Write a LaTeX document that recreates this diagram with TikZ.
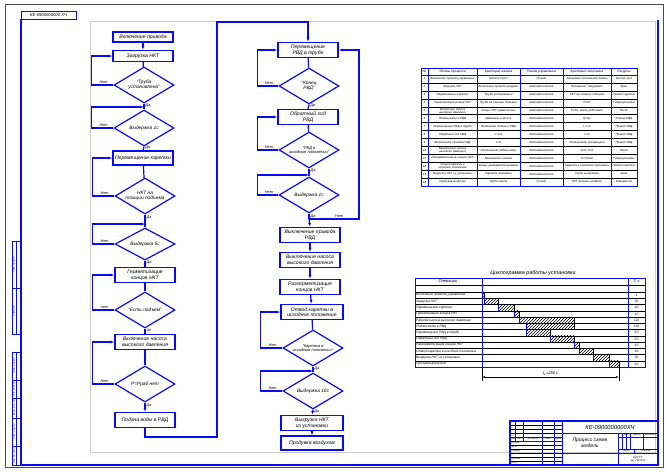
\documentclass[tikz,border=0pt]{standalone}
\usepackage{fontspec}
\setmainfont{Liberation Sans}
\usetikzlibrary{arrows.meta,shapes.geometric,patterns,calc}
\definecolor{cadblue}{RGB}{10,10,245}
\definecolor{cadgray}{RGB}{205,205,205}

\begin{document}
\begin{tikzpicture}[x=1pt,y=-1pt,
  blk/.style={draw=cadblue,line width=1.2pt,minimum width=60,minimum height=15,inner sep=0.5pt,
    font=\fontsize{5.1}{5.6}\selectfont\itshape,align=center},
  dec/.style={diamond,aspect=1.67,draw=cadblue,line width=1.2pt,minimum width=60,minimum height=36,
    inner sep=0pt,font=\fontsize{4.8}{5.4}\selectfont\itshape,align=center},
  lnk/.style={cadblue,line width=1.2pt},
  arr/.style={lnk,-{Latex[length=4pt,width=3pt]}},
  lbl/.style={font=\fontsize{3.8}{4}\selectfont\itshape,inner sep=1pt,black},
  tcell/.style={font=\fontsize{2.9}{3.1}\selectfont\itshape,align=center,inner sep=0pt},
  ctext/.style={font=\fontsize{3.3}{3.5}\selectfont\itshape,inner sep=0pt},
  thk/.style={cadblue,line width=1pt},
  thn/.style={black,line width=0.35pt}
]
  \useasboundingbox (0,0) rectangle (666,471);

  % Sheet frame
  \draw[black!70,line width=0.4pt] (5,4) rectangle (663,467);
  \draw[cadgray,line width=0.5pt] (90,21) rectangle (655,452);
  \draw[thk,line width=1.2pt] (21,19) -- (21,465) -- (658,465) -- (658,20);
  \node[draw=cadblue,line width=1pt,minimum width=55,minimum height=8,inner sep=0pt,
    font=\fontsize{4.2}{4.2}\selectfont\itshape] (stamp) at (48.5,15) {КЕ-0900000000 ХЧ};

  % Side strip
  \foreach \a/\b/\t in {241/288/Перв. примен., 288/334/Справ. №, 352/380/Подп. и дата,
      380/398/Инв. № дубл., 398/418/Взам. инв. №, 418/446/Подп. и дата, 446/465/Инв. № подл.}{
    \draw[thk] (12,\a) rectangle (21,\b);
    \draw[thk,line width=0.6pt] (16,\a) -- (16,\b);
    \node[rotate=90,font=\fontsize{2.4}{2.4}\selectfont\itshape,inner sep=0pt] at (14,{(\a+\b)/2}) {\t};
  }

  % Flowchart, left column
  \node[blk,minimum height=10] (s1) at (143,37) {Включение привода};
  \node[blk,minimum height=11] (s2) at (143,56) {Загрузка НКТ};
  \node[dec] (q1) at (144,85) {``Труба\\установлена''};
  \coordinate (j2) at (144,107);
  \node[dec] (q2) at (144,128) {Выдержка 1с};
  \node[blk,minimum height=14] (s3) at (143,158) {Перемещение каретки};
  \node[dec] (q3) at (145,196) {НКТ на\\позиции подъема};
  \coordinate (j4) at (145,224);
  \node[dec,minimum height=32] (q4) at (145,244) {Выдержка 5с};
  \node[blk] (s4) at (145,275) {Герметизация\\концов НКТ};
  \node[dec] (q5) at (145,310) {``Есть подъем''};
  \node[blk] (s5) at (145,342) {Включение насоса\\высокого давления};
  \node[dec] (q6) at (145,384) {Р=Рраб нет};
  \node[blk] (s6) at (145,420) {Подача воды в РВД};

  \draw[arr] (s1) -- (s2);
  \draw[lnk] (s2) -- (q1);
  \draw[arr] (q1.west) -- node[lbl,above,pos=0.45]{Нет} ++(-22,0) |- (s2.west);
  \draw[lnk] (q1.south) -- node[lbl,right,pos=0.3]{Да} (q2.north);
  \draw[arr] (q2.west) -- node[lbl,above,pos=0.45]{Нет} ++(-22,0) |- (j2);
  \draw[lnk] (q2.south) -- node[lbl,right,pos=0.3]{Да} (s3.north);
  \draw[lnk] (s3) -- (q3);
  \draw[arr] (q3.west) -- node[lbl,above,pos=0.45]{Нет} ++(-22,0) |- (s3.west);
  \draw[lnk] (q3.south) -- node[lbl,right,pos=0.25]{Да} (q4.north);
  \draw[arr] (q4.west) -- node[lbl,above,pos=0.45]{Нет} ++(-22,0) |- (j4);
  \draw[lnk] (q4.south) -- node[lbl,right,pos=0.3]{Да} (s4.north);
  \draw[lnk] (s4) -- (q5);
  \draw[arr] (q5.west) -- node[lbl,above,pos=0.45]{нет} ++(-22,0) |- (s4.west);
  \draw[lnk] (q5.south) -- node[lbl,right,pos=0.3]{да} (s5.north);
  \draw[lnk] (s5) -- (q6);
  \draw[arr] (q6.west) -- node[lbl,above,pos=0.45]{Нет} ++(-22,0) |- (s5.west);
  \draw[arr] (q6.south) -- node[lbl,right,pos=0.3]{Да} (s6.north);

  % Flowchart, right column
  \coordinate (c1) at (217,437);
  \coordinate (c2) at (217,22);
  \node[blk] (r1) at (308,50) {Перемещение\\РВД в трубе};
  \node[dec] (p1) at (309,86) {``Конец\\РВД''};
  \node[blk] (r2) at (308,117) {Обратный ход\\РВД};
  \node[dec,font=\fontsize{4}{4.6}\selectfont\itshape] (p2) at (309,150) {``РВД в\\исходном положении''};
  \coordinate (j5) at (309,175);
  \node[dec] (p3) at (309,195) {Выдержка 1с};
  \coordinate (j6) at (309,219);
  \node[blk] (r3) at (310,235) {Выключение привода\\РВД};
  \node[blk] (r4) at (310,260) {Выключение насоса\\высокого давления};
  \node[blk] (r5) at (310,287) {Разгерметизация\\концов НКТ};
  \node[blk,minimum width=62] (r6) at (312,312) {Отвод каретки в\\исходное положение};
  \node[dec,font=\fontsize{4}{4.6}\selectfont\itshape] (p4) at (313,348) {``Каретка в\\исходном положении''};
  \coordinate (j7) at (313,371);
  \node[dec] (p5) at (313,391) {Выдержка 10с};
  \node[blk,minimum width=62] (r7) at (312,423) {Выгрузка НКТ\\из установки};
  \node[blk,minimum width=62,minimum height=14] (r8) at (312,443) {Продувка воздухом};

  \draw[arr] (s6.south) |- (c1) -- (c2) -| (r1.north);
  \draw[lnk] (r1) -- (p1);
  \draw[arr] (p1.west) -- node[lbl,above,pos=0.45]{Нет} ++(-21,0) |- (r1.west);
  \draw[lnk] (p1.south) -- node[lbl,right,pos=0.3]{Да} (r2.north);
  \draw[lnk] (r2) -- (p2);
  \draw[arr] (p2.west) -- node[lbl,above,pos=0.45]{Нет} ++(-21,0) |- (r2.west);
  \draw[lnk] (p2.south) -- node[lbl,right,pos=0.3]{Да} (p3.north);
  \draw[arr] (p3.west) -- node[lbl,above,pos=0.45]{Нет} ++(-21,0) |- (j5);
  \draw[lnk] (p3.south) -- node[lbl,right,pos=0.6]{Да} (j6);
  \draw[arr] (j6) -- node[lbl,above,pos=0.6]{Нет} ++(50,0) |- (r1.east);
  \draw[arr] (j6) -- (r3.north);
  \draw[arr] (r3) -- (r4);
  \draw[arr] (r4) -- (r5);
  \draw[arr] (r5) -- (r6);
  \draw[lnk] (r6) -- (p4);
  \draw[arr] (p4.west) -- node[lbl,above,pos=0.45]{Нет} ++(-22,0) |- (r6.west);
  \draw[lnk] (p4.south) -- node[lbl,right,pos=0.3]{Да} (p5.north);
  \draw[arr] (p5.west) -- node[lbl,above,pos=0.45]{Нет} ++(-22,0) |- (j7);
  \draw[arr] (p5.south) -- node[lbl,right,pos=0.3]{Да} (r7.north);
  \draw[arr] (r7) -- (r8);

  % Process table
  \foreach \k in {1,...,14} \draw[thn] (421,{75+7.93*\k}) -- (637,{75+7.93*\k});
  \draw[thk] (421,75) -- (637,75);
  \foreach \x in {428,477,520,563,611} \draw[thk] (\x,68) -- (\x,186);
  \draw[thk] (421,68) rectangle (637,186);
  \foreach \x/\t in {424.5/№, 452.5/Этапы процесса, 498.5/Критерий начала,
      541.5/Режим управления, 587/Критерий окончания, 624/Ресурсы}
    \node[tcell,font=\fontsize{3.3}{3.4}\selectfont\itshape] at (\x,71.5) {\t};
  \foreach \a/\b/\c/\d/\e [count=\i] in {
      Включение привода управления/Кнопка ``Пуск''/Ручной/Загорание сигнальной лампы/Кнопка пуск,
      Загрузка НКТ/Включение привода загрузки/Автоматический/Положение ``загружено''/Кран,
      Перемещение каретки/``Труба установлена''/Автоматический/НКТ на позиции подъема/Привод каретки,
      Герметизация концов НКТ/Труба на позиции подъема/Автоматический/Р=Рг/Гидро\-цилиндры,
      Включение насоса высокого давления/Концы НКТ герметичны/Автоматический/{Р=Рн, насос работает}/Насос,
      Подача воды в РВД/Давление в насосе/Автоматический/Q=Qн/Клапан РВД,
      Перемещение РВД в трубе/Включение подачи в РВД/Автоматический/L=Lт/Привод РВД,
      Обратный ход РВД/L=Lт/Автоматический/L=0/Привод РВД,
      Выключение привода РВД/L=0/Автоматический/Подача воды прекращена/Привод РВД,
      Выключение насоса высокого давления/Отключение подачи воды/Автоматический/{Q=0, Р=0}/Насос,
      Разгерметизация концов НКТ/Выключение насоса/Автоматический/Р=Ратм/Гидро\-цилиндры,
      Отвод каретки в исходное положение/Концы разгерметизированы/Автоматический/Каретка в исходном положении/Привод каретки,
      Выгрузка НКТ из установки/Каретка отведена/Автоматический/Труба выгружена/Кран,
      Продувка воздухом/Труба снята/Ручной/НКТ готова к работе/Компрессор}{
    \pgfmathsetmacro\ym{75+7.93*(\i-0.5)}
    \node[tcell] at (424.5,\ym) {\i};
    \node[tcell,text width=47] at (452.5,\ym) {\a};
    \node[tcell,text width=41] at (498.5,\ym) {\b};
    \node[tcell,text width=41] at (541.5,\ym) {\c};
    \node[tcell,text width=46] at (587,\ym) {\d};
    \node[tcell,text width=24] at (624,\ym) {\e};
  }

  % Cyclogram
  \node[font=\fontsize{5.4}{5.4}\selectfont\itshape] (cyctitle) at (533,273) {Циклограмма работы установки};
  \draw[thn] (415,285) -- (645,285);
  \foreach \k in {0,...,11} \draw[thn] (415,{292+6.25*\k}) -- (645,{292+6.25*\k});
  \foreach \t/\s/\e/\v [count=\i] in {
      Включение привода управления/482/484/1,
      Загрузка НКТ/484/498/30,
      Перемещение каретки/498/514/30,
      Герметизация концов НКТ/514/519/10,
      Работа насоса высокого давления/519/574/120,
      Подача воды в РВД/526/574/100,
      Перемещение РВД в трубе/526/550/50,
      Обратный ход РВД/550/574/50,
      Разгерметизация концов НКТ/574/579/10,
      Отвод каретки в исходное положение/579/593/30,
      Выгрузка НКТ из установки/593/609/30,
      Продувка воздухом/609/619/20}{
    \pgfmathsetmacro\ya{292+6.25*(\i-1)}
    \pgfmathsetmacro\yb{292+6.25*\i}
    \draw[thn,pattern=north east lines] (\s,\ya) rectangle (\e,\yb);
    \draw[thk] (\s,\ya) -- (\s,\yb);
    \node[ctext,anchor=west] at (416,{(\ya+\yb)/2}) {\t};
    \node[ctext] at (636.5,{(\ya+\yb)/2}) {\v};
  }
  \draw[thk] (415,278) rectangle (645,367);
  \foreach \x in {482,628} \draw[thk] (\x,278) -- (\x,367);
  \node[ctext,font=\fontsize{4}{4}\selectfont\itshape] at (448,281.5) {Операции};
  \node[ctext,font=\fontsize{4}{4}\selectfont\itshape] at (636.5,281.5) {T, с};
  \draw[thn] (482,367) -- (482,381);
  \draw[thn] (619,367) -- (619,381);
  \draw[thn,{Latex[length=3pt,width=1.6pt]}-{Latex[length=3pt,width=1.6pt]}] (482,377) -- (619,377)
    node[midway,above=0.5pt,ctext,font=\fontsize{4}{4}\selectfont\itshape] {t\textsubscript{ц}=280 с};

  % Title block
  \foreach \k in {1,...,10} \draw[thn] (510,{421+4*\k}) -- (562,{421+4*\k});
  \draw[thk,line width=0.8pt] (510,437) -- (562,437) (510,441) -- (562,441);
  \foreach \x in {515.6,523.6} \draw[thk,line width=0.8pt] (\x,421) -- (\x,441);
  \foreach \x in {542,554,562} \draw[thk,line width=0.8pt] (\x,421) -- (\x,465);
  \draw[thk] (562,433) -- (658,433);
  \draw[thk] (562,453) -- (658,453);
  \draw[thk] (618,433) -- (618,465);
  \draw[thk,line width=0.7pt] (618,437) -- (658,437) (618,449) -- (658,449);
  \foreach \x in {622,626,630,643.6} \draw[thk,line width=0.7pt] (\x,433) -- (\x,449);
  \draw[thk,line width=0.7pt] (634,449) -- (634,453);
  \draw[thk,line width=1.2pt] (510,421) rectangle (658,465);
  \foreach \x/\t in {512.8/Изм., 519.6/Лист, 532.8/№ докум., 548/Подп., 558/Дата}
    \node[ctext,font=\fontsize{2.4}{2.4}\selectfont\itshape] at (\x,439) {\t};
  \foreach \y/\t in {443/Разраб., 447/Пров., 451/Т.контр., 459/Н.контр., 463/Утв.}
    \node[ctext,font=\fontsize{2.4}{2.4}\selectfont\itshape,anchor=west] at (510.8,\y) {\t};
  \foreach \x/\t in {626/Лит., 636.8/Масса, 650.8/Масштаб}
    \node[ctext,font=\fontsize{2.4}{2.4}\selectfont\itshape] at (\x,435) {\t};
  \node[ctext,font=\fontsize{2.4}{2.4}\selectfont\itshape] at (626,451) {Лист};
  \node[ctext,font=\fontsize{2.4}{2.4}\selectfont\itshape] at (646,451) {Листов};
  \node[font=\fontsize{5.8}{6}\selectfont\itshape,inner sep=0pt] (design) at (610,427) {КЕ-0900000000ХЧ};
  \node[font=\fontsize{5}{5.8}\selectfont\itshape,align=center,inner sep=0pt] (tname) at (590,443) {Процесс схема\\модель};
  \node[ctext,font=\fontsize{2.8}{3.1}\selectfont\itshape,align=center] (org) at (638,459) {КузГТУ\\гр. ГМ-071};
\end{tikzpicture}
\end{document}
